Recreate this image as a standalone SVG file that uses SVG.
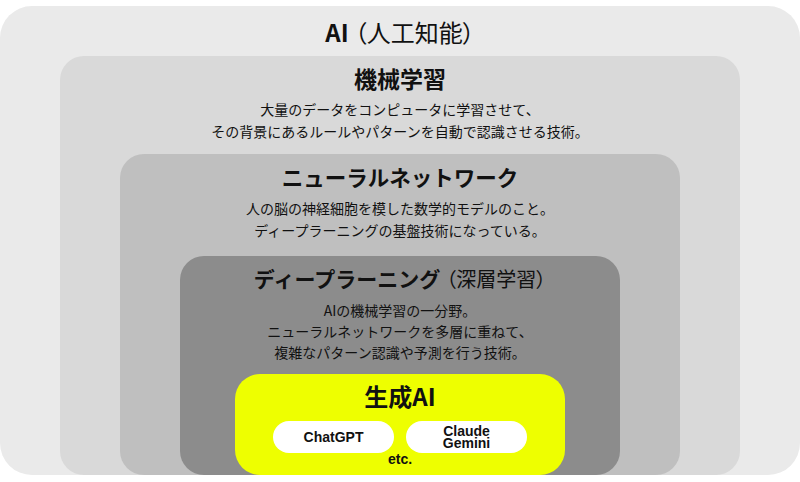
<svg xmlns="http://www.w3.org/2000/svg" width="800" height="482" viewBox="0 0 800 482">
<style>
text{font-family:"Noto Sans CJK JP","Noto Sans",sans-serif;fill:#111;text-anchor:middle}
.t{font-size:22px;font-weight:700}
.tr{font-weight:400;font-feature-settings:"palt"}
.d{font-size:14px;font-weight:400}
.g{font-size:24px;font-weight:700}
.p{font-family:"Liberation Sans","Noto Sans CJK JP",sans-serif;font-size:14px;font-weight:700}
.pill{fill:#fff}
</style>
<rect width="800" height="482" fill="#fff"/>
<g id="ai">
<rect x="0" y="6" width="800" height="469" rx="32" fill="#eaeaea"/>
<text class="t" x="400" y="42" style="font-size:24px">AI<tspan class="tr" dx="6">（人工知能）</tspan></text>
</g>
<g id="machine-learning">
<rect x="60" y="56" width="680" height="419" rx="24" fill="#d9d9d9"/>
<text class="t" x="400" y="88" style="font-size:23px">機械学習</text>
<text class="d" x="400" y="115">大量のデータをコンピュータに学習させて、</text>
<text class="d" x="400" y="137">その背景にあるルールやパターンを自動で認識させる技術。</text>
</g>
<g id="neural-network">
<rect x="120" y="154" width="560" height="321" rx="24" fill="#bfbfbf"/>
<text class="t" x="400" y="186" style="font-size:21.5px">ニューラルネットワーク</text>
<text class="d" x="400" y="214">人の脳の神経細胞を模した数学的モデルのこと。</text>
<text class="d" x="400" y="236">ディープラーニングの基盤技術になっている。</text>
</g>
<g id="deep-learning">
<rect x="180" y="256" width="440" height="219" rx="24" fill="#8c8c8c"/>
<text class="t" x="400" y="287" style="font-size:21px">ディープラーニング<tspan class="tr" dx="6" style="font-size:20px">（深層学習）</tspan></text>
<text class="d" x="400" y="316">AIの機械学習の一分野。</text>
<text class="d" x="400" y="337">ニューラルネットワークを多層に重ねて、</text>
<text class="d" x="400" y="358">複雑なパターン認識や予測を行う技術。</text>
</g>
<g id="generative-ai">
<rect x="235" y="374" width="330" height="101" rx="25" fill="#eeff00"/>
<text class="g" x="400" y="406">生成AI</text>
<g id="chatgpt">
<rect class="pill" x="273" y="421" width="121" height="32" rx="16"/>
<text class="p" x="333.5" y="442">ChatGPT</text>
</g>
<g id="claude-gemini">
<rect class="pill" x="406" y="421" width="121" height="32" rx="16"/>
<text class="p" x="466.5" y="435.5">Claude<tspan x="466.5" dy="12">Gemini</tspan></text>
</g>
<text class="p" x="400" y="464">etc.</text>
</g>
<g id="connectors"/>
</svg>
